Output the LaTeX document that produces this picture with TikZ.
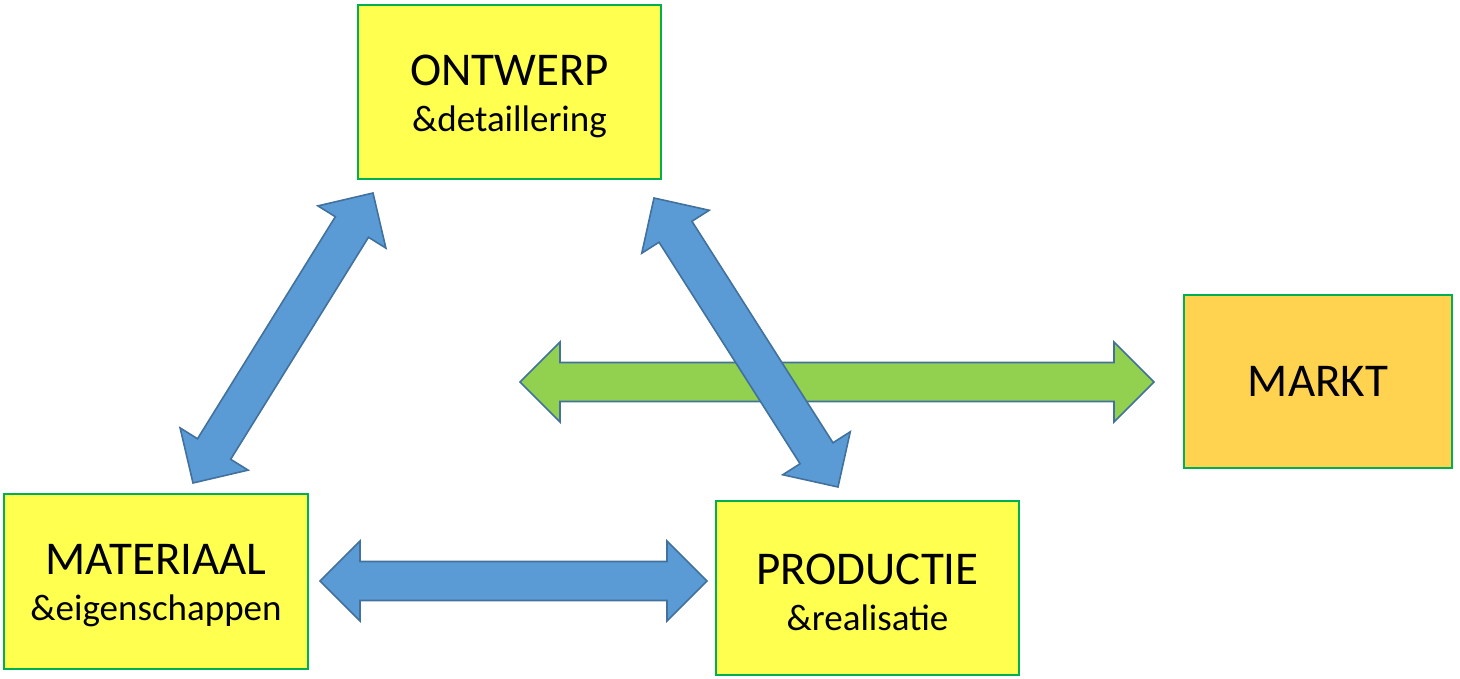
\documentclass[tikz,border=0pt]{standalone}
\usepackage{fontspec}
\setmainfont{Carlito}
\usetikzlibrary{calc}

\definecolor{boxyellow}{HTML}{FFFF4F}
\definecolor{boxorange}{HTML}{FFD24F}
\definecolor{boxedge}{HTML}{00B050}
\definecolor{arrowblue}{HTML}{5B9BD5}
\definecolor{arrowgreen}{HTML}{92D050}
\definecolor{arrowedge}{HTML}{41719C}

\tikzset{
  topic/.style={draw=boxedge, line width=2pt, fill=boxyellow, align=center,
    inner sep=0pt, font=\fontsize{47}{46}\selectfont},
  market/.style={topic, fill=boxorange},
  bluearrow/.style={draw=arrowedge, line width=1.6pt, fill=arrowblue, line join=miter},
  greenarrow/.style={bluearrow, fill=arrowgreen},
}

% heading line with a little extra room above, so the text block sits lower
\newcommand{\head}[1]{\raisebox{0pt}[\dimexpr\height+8pt\relax]{#1}}
\newcommand{\sub}[1]{{\fontsize{37}{46}\selectfont #1}}

% Double-headed block arrow between two named points
\newcommand{\blockarrow}[3]{%
  \coordinate (ba-s1) at ($(#2)!40pt!(#3)$);
  \coordinate (ba-e1) at ($(#3)!40pt!(#2)$);
  \draw[#1] (#2)
    -- ($(ba-s1)!40pt!90:(#3)$) -- ($(ba-s1)!19.5pt!90:(#3)$)
    -- ($(ba-e1)!19.5pt!-90:(#2)$) -- ($(ba-e1)!40pt!-90:(#2)$)
    -- (#3)
    -- ($(ba-e1)!40pt!90:(#2)$) -- ($(ba-e1)!19.5pt!90:(#2)$)
    -- ($(ba-s1)!19.5pt!-90:(#3)$) -- ($(ba-s1)!40pt!-90:(#3)$)
    -- cycle;
}

\begin{document}
\begin{tikzpicture}[x=1pt, y=-1pt]
  \useasboundingbox (0,0) rectangle (1460,678);

  % topic boxes
  \node[topic, minimum width=303pt, minimum height=174pt] (ontwerp) at (509.5,92)
    {\head{ONTWERP}\\\sub{\&detaillering}};
  \node[topic, minimum width=304pt, minimum height=175pt] (materiaal) at (156,581.5)
    {\head{MATERIAAL}\\\sub{\&eigenschappen}};
  \node[topic, minimum width=303pt, minimum height=174pt] (productie) at (867.5,588)
    {\head{PRODUCTIE}\\\sub{\&realisatie}};
  \node[market, minimum width=268pt, minimum height=173pt] (markt) at (1318,381.5)
    {MARKT};

  % arrow tips
  \coordinate (mk-l) at (520,382);
  \coordinate (mk-r) at (1154,382);
  \coordinate (om-t) at (373,193);
  \coordinate (om-b) at (193,483);
  \coordinate (op-t) at (654,198);
  \coordinate (op-b) at (838,487);
  \coordinate (mp-l) at (320,581);
  \coordinate (mp-r) at (707,581);

  % market link sits beneath the blue links
  \blockarrow{greenarrow}{mk-l}{mk-r}
  \blockarrow{bluearrow}{om-t}{om-b}
  \blockarrow{bluearrow}{op-t}{op-b}
  \blockarrow{bluearrow}{mp-l}{mp-r}
\end{tikzpicture}
\end{document}
